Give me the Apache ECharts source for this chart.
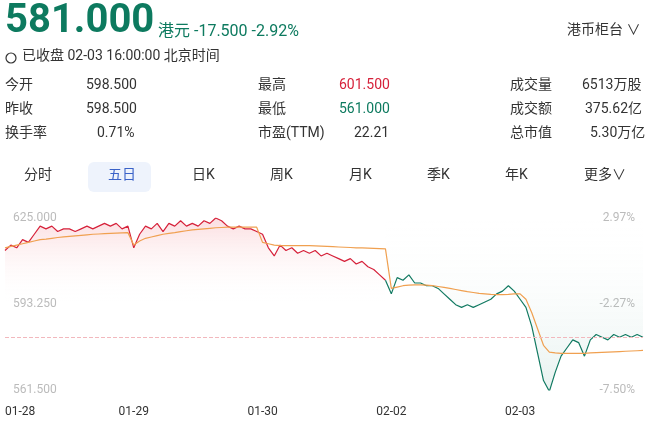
<!DOCTYPE html>
<html><head><meta charset="utf-8">
<script src="https://cdn.jsdelivr.net/npm/echarts@6/dist/echarts.min.js"></script>
<style>html,body{margin:0;padding:0;background:#fff}#c{width:650px;height:434px}</style>
</head><body><div id="c"></div>
<script>
const dayLabels = ['01-28','01-29','01-30','02-02','02-03'];
const day1 = [613,615,614,617,616,619,622,621,622,620,621,621,620,621,622,621,622,623,622,623,621,622];
const day2 = [614,619,622,621,623,620,623,622,624,622,623,622,624,623,625,624,622,621,622,621,621,620];
const day3 = [619,614,611,615,613,614,612,613,612,613,611,612,611,610,609,610,608,609,607,606,604,602];
const day4 = [597,603,602,604,601,601,600,600,599,597,595,593,592,593,592,593,594,595,597,598,600,598];
const day5 = [595,592,585,575,565,561,568,574,577,580,579,574,580,582,581,580,582,581,582,581,582,581];
const avg1 = [614,614.5,615,615.5,616,616.5,617,617.2,617.5,617.8,618,618.2,618.4,618.6,618.8,619,619.1,619.2,619.3,619.4,619.5,619.6];
const avg2 = [615,616.5,617.5,618,618.5,619,619.3,619.6,620,620.3,620.6,620.8,621,621.2,621.4,621.5,621.6,621.6,621.6,621.6,621.6,621.6];
const avg3 = [616,615.5,615,614.8,614.8,614.8,614.8,614.8,614.8,614.7,614.6,614.5,614.4,614.3,614.2,614.1,614,614,613.9,613.8,613.7,613.6];
const avg4 = [599,599.5,600,600.2,600.3,600.3,600.2,600,599.7,599.4,599,598.6,598.2,597.8,597.5,597.2,597,596.8,596.7,596.7,596.8,597];
const avg5 = [597,595,590,584,578,575.5,575.2,575,575,575,575,575,575.2,575.3,575.4,575.5,575.6,575.7,575.8,575.9,576,576.1];
const prevClose = 607, lastPrice = 581;

const price = [].concat(day1,day2,day3,day4,day5);
const avg = [].concat(avg1,avg2,avg3,avg4,avg5);
const n1 = day1.length+day2.length+day3.length;
const red = price.map((v,i)=> i<n1 ? v : null);
const green = price.map((v,i)=> i>=n1-1 ? v : null);
const cats = price.map((v,i)=>i);
const starts = [0, day1.length, day1.length+day2.length, n1, n1+day4.length];

const chart = echarts.init(document.getElementById('c'));
const F = 'Roboto, "Noto Sans CJK SC", sans-serif';
const T = (x,y,t,s)=>({type:'text',left:x,top:y,style:Object.assign({text:t,font:'14px '+F,fill:'#333'},s||{})});
const g = [
  T(5,2,'581.000',{font:'bold 40px '+F,fill:'#0d7a5f'}),
  T(158,24,'港元 -17.500 -2.92%',{font:'16px '+F,fill:'#0d7a5f'}),
  {type:'circle',shape:{cx:11,cy:58,r:5},style:{fill:'none',stroke:'#333',lineWidth:1.2}},
  T(22,50,'已收盘 02-03 16:00:00 北京时间'),
  T(567,24,'港币柜台 ∨',{font:'14px '+F}),
  T(5,79,'今开'),T(5,103,'昨收'),T(5,127,'换手率'),
  T(86,79,'598.500'),T(86,103,'598.500'),T(97,127,'0.71%'),
  T(258,79,'最高'),T(258,103,'最低'),T(258,127,'市盈(TTM)'),
  T(339,79,'601.500',{fill:'#d6213a'}),T(339,103,'561.000',{fill:'#0d7a5f'}),T(354,127,'22.21'),
  T(510,79,'成交量'),T(510,103,'成交额'),T(510,127,'总市值'),
  T(582,79,'6513万股'),T(585,103,'375.62亿'),T(590,127,'5.30万亿'),
  {type:'rect',shape:{x:88,y:162,width:63,height:30,r:6},style:{fill:'#eef3fc'}},
  T(24,169,'分时'),T(108,169,'五日',{fill:'#3a62c8'}),T(192,169,'日K'),T(270,169,'周K'),
  T(349,169,'月K'),T(427,169,'季K'),T(505,169,'年K'),T(584,169,'更多∨')
];
chart.setOption({
  animation:false,
  graphic:g,
  grid:{left:5,right:7,top:218,bottom:44,containLabel:false,outerBoundsMode:'none'},
  xAxis:{type:'category',data:cats,boundaryGap:false,
    axisLine:{show:false},axisTick:{show:false},
    axisLabel:{interval:(i)=>starts.includes(i),formatter:(v,i)=>dayLabels[starts.indexOf(Number(v))]||'',
      color:'#333',fontSize:12,fontFamily:F,margin:16,alignMinLabel:'left'}},
  yAxis:[
    {type:'value',min:561.5,max:625,interval:31.75,splitLine:{show:false},
      axisLabel:{inside:true,color:'#bbb',fontSize:12,fontFamily:F,formatter:v=>v.toFixed(3)}},
    {type:'value',min:561.5,max:625,interval:31.75,position:'right',splitLine:{show:false},
      axisLabel:{inside:true,color:'#bbb',fontSize:12,fontFamily:F,formatter:v=>((v/prevClose-1)*100).toFixed(2)+'%'}}
  ],
  series:[
    {type:'line',data:red,symbol:'none',lineStyle:{color:'#d6213a',width:1.2},
      areaStyle:{origin:'start',color:new echarts.graphic.LinearGradient(0,0,0,1,[{offset:0,color:'rgba(240,120,130,0.35)'},{offset:0.5,color:'rgba(255,255,255,0)'}])},
      markLine:{silent:true,symbol:'none',label:{show:false},lineStyle:{color:'#f2b8bd',type:'dashed',width:1},data:[{yAxis:lastPrice}]}},
    {type:'line',data:green,symbol:'none',lineStyle:{color:'#127a62',width:1.2},
      areaStyle:{origin:'end',color:new echarts.graphic.LinearGradient(0,0,0,1,[{offset:0,color:'rgba(255,255,255,0)'},{offset:1,color:'rgba(30,130,110,0.15)'}])}},
    {type:'line',data:avg,symbol:'none',lineStyle:{color:'#f0a050',width:1.2}}
  ]
});
</script></body></html>
